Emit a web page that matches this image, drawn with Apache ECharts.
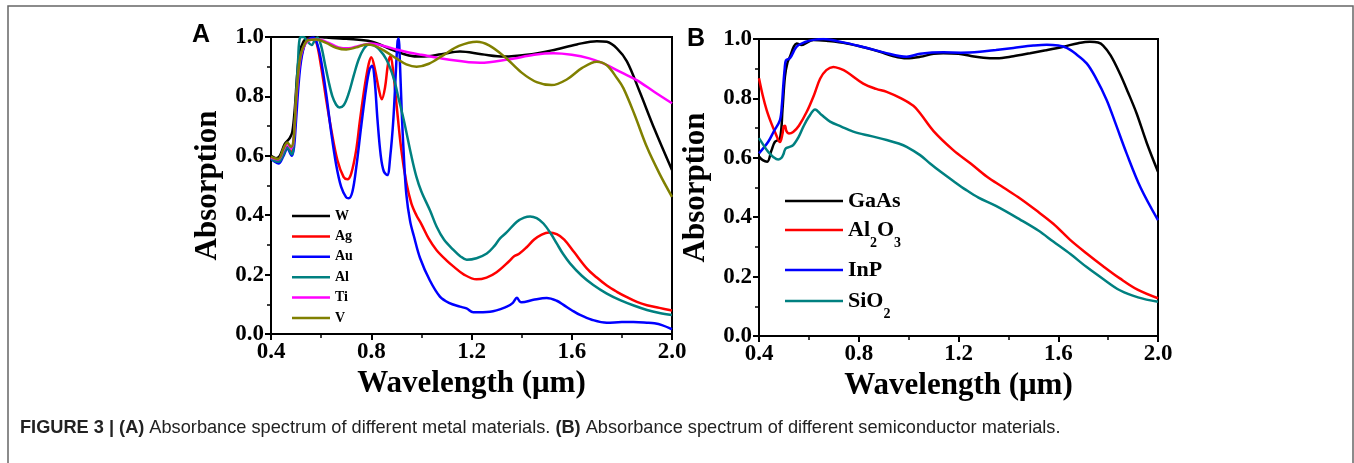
<!DOCTYPE html>
<html>
<head>
<meta charset="utf-8">
<script src="https://cdn.jsdelivr.net/npm/echarts@6/dist/echarts.min.js"></script>
<style>
  html, body { margin: 0; padding: 0; background: #fff; }
  #chart { width: 1354px; height: 463px; }
</style>
</head>
<body>
<div id="chart"></div>
<script>
// ---- Panel A: metals (wavelength in um, absorption) ----
const W = [[0.40,0.600],[0.42,0.592],[0.435,0.600],[0.455,0.640],[0.475,0.660],[0.485,0.680],[0.495,0.760],[0.505,0.880],[0.515,0.950],[0.53,0.985],[0.545,0.998],[0.57,1.0],[0.62,0.998],[0.70,0.994],[0.80,0.985],[0.88,0.958],[0.95,0.938],[1.0,0.934],[1.08,0.942],[1.154,0.951],[1.24,0.942],[1.33,0.934],[1.42,0.940],[1.52,0.955],[1.62,0.975],[1.70,0.986],[1.74,0.984],[1.78,0.962],[1.82,0.918],[1.87,0.818],[1.93,0.690],[2.0,0.552]];
const Ag = [[0.40,0.595],[0.415,0.585],[0.43,0.582],[0.45,0.610],[0.465,0.630],[0.48,0.612],[0.49,0.640],[0.50,0.760],[0.51,0.870],[0.525,0.950],[0.545,0.990],[0.565,0.995],[0.58,0.985],[0.60,0.900],[0.62,0.790],[0.64,0.690],[0.665,0.585],[0.69,0.528],[0.705,0.521],[0.72,0.540],[0.74,0.620],[0.755,0.720],[0.775,0.840],[0.79,0.910],[0.80,0.932],[0.815,0.890],[0.83,0.825],[0.842,0.790],[0.855,0.830],[0.867,0.910],[0.877,0.935],[0.888,0.880],[0.90,0.780],[0.92,0.620],[0.94,0.510],[0.96,0.440],[0.98,0.400],[1.0,0.370],[1.03,0.320],[1.06,0.283],[1.10,0.248],[1.13,0.226],[1.17,0.200],[1.22,0.184],[1.26,0.190],[1.30,0.208],[1.35,0.245],[1.37,0.262],[1.39,0.270],[1.42,0.292],[1.45,0.318],[1.48,0.335],[1.51,0.342],[1.54,0.336],[1.57,0.318],[1.61,0.275],[1.66,0.221],[1.70,0.190],[1.74,0.163],[1.78,0.142],[1.82,0.124],[1.86,0.108],[1.90,0.097],[1.95,0.088],[2.0,0.079]];
const Au = [[0.40,0.590],[0.415,0.580],[0.43,0.574],[0.45,0.600],[0.465,0.625],[0.483,0.600],[0.492,0.630],[0.50,0.720],[0.51,0.840],[0.52,0.920],[0.535,0.975],[0.55,0.992],[0.57,0.998],[0.585,0.975],[0.60,0.920],[0.62,0.810],[0.64,0.680],[0.66,0.570],[0.68,0.495],[0.70,0.460],[0.71,0.457],[0.725,0.480],[0.74,0.560],[0.76,0.700],[0.78,0.830],[0.793,0.890],[0.803,0.903],[0.813,0.860],[0.825,0.720],[0.838,0.600],[0.85,0.548],[0.864,0.535],[0.876,0.600],[0.888,0.720],[0.898,0.880],[0.905,0.985],[0.909,0.995],[0.915,0.900],[0.922,0.740],[0.93,0.600],[0.94,0.470],[0.955,0.380],[0.97,0.330],[0.995,0.255],[1.034,0.180],[1.074,0.126],[1.11,0.105],[1.154,0.092],[1.18,0.086],[1.207,0.073],[1.274,0.075],[1.341,0.092],[1.365,0.105],[1.381,0.122],[1.392,0.110],[1.40,0.107],[1.447,0.115],[1.50,0.121],[1.54,0.112],[1.567,0.098],[1.60,0.080],[1.633,0.064],[1.68,0.048],[1.74,0.038],[1.80,0.040],[1.846,0.040],[1.90,0.038],[1.93,0.036],[1.96,0.030],[2.0,0.016]];
const Al = [[0.40,0.592],[0.415,0.583],[0.43,0.580],[0.45,0.605],[0.465,0.628],[0.483,0.605],[0.492,0.660],[0.50,0.800],[0.508,0.920],[0.516,0.998],[0.53,1.0],[0.545,0.985],[0.562,0.973],[0.575,0.990],[0.585,0.998],[0.60,0.970],[0.615,0.910],[0.63,0.850],[0.645,0.800],[0.66,0.772],[0.673,0.763],[0.69,0.770],[0.71,0.810],[0.73,0.870],[0.75,0.925],[0.77,0.960],[0.79,0.975],[0.81,0.972],[0.83,0.960],[0.86,0.925],[0.89,0.860],[0.91,0.790],[0.93,0.720],[0.96,0.600],[0.98,0.530],[1.0,0.480],[1.035,0.415],[1.061,0.361],[1.09,0.318],[1.128,0.283],[1.155,0.262],[1.181,0.250],[1.22,0.255],[1.261,0.271],[1.29,0.295],[1.314,0.322],[1.34,0.342],[1.381,0.378],[1.41,0.392],[1.434,0.396],[1.46,0.390],[1.487,0.372],[1.515,0.340],[1.54,0.305],[1.565,0.270],[1.593,0.238],[1.64,0.196],[1.686,0.165],[1.74,0.136],[1.793,0.114],[1.85,0.095],[1.90,0.081],[1.95,0.071],[2.0,0.064]];
const Ti = [[0.40,0.595],[0.415,0.590],[0.43,0.588],[0.45,0.620],[0.465,0.640],[0.48,0.625],[0.49,0.650],[0.50,0.780],[0.51,0.880],[0.52,0.940],[0.535,0.975],[0.55,0.988],[0.57,0.992],[0.60,0.990],[0.63,0.980],[0.67,0.965],[0.71,0.962],[0.75,0.970],[0.80,0.978],[0.85,0.970],[0.90,0.958],[0.95,0.948],[1.0,0.940],[1.1,0.925],[1.234,0.913],[1.35,0.925],[1.45,0.940],[1.527,0.945],[1.60,0.940],[1.67,0.928],[1.726,0.911],[1.80,0.880],[1.859,0.855],[1.93,0.815],[2.0,0.777]];
const V = [[0.40,0.597],[0.415,0.592],[0.43,0.590],[0.45,0.625],[0.465,0.645],[0.48,0.630],[0.49,0.655],[0.50,0.790],[0.51,0.890],[0.52,0.945],[0.535,0.978],[0.55,0.990],[0.58,0.992],[0.62,0.980],[0.66,0.964],[0.70,0.958],[0.74,0.965],[0.78,0.975],[0.81,0.972],[0.85,0.955],[0.90,0.928],[0.94,0.908],[0.981,0.900],[1.03,0.910],[1.09,0.940],[1.15,0.970],[1.221,0.984],[1.27,0.972],[1.33,0.935],[1.40,0.880],[1.46,0.848],[1.52,0.838],[1.58,0.857],[1.64,0.895],[1.70,0.917],[1.74,0.905],[1.78,0.862],[1.806,0.828],[1.85,0.740],[1.899,0.631],[1.95,0.540],[2.0,0.462]];

// ---- Panel B: semiconductors ----
const GaAs = [[0.40,0.604],[0.415,0.592],[0.433,0.587],[0.45,0.625],[0.464,0.654],[0.484,0.665],[0.494,0.760],[0.504,0.873],[0.514,0.920],[0.524,0.940],[0.54,0.975],[0.551,0.985],[0.57,0.980],[0.618,0.997],[0.68,0.993],[0.752,0.985],[0.82,0.972],[0.885,0.957],[0.94,0.942],[0.992,0.935],[1.046,0.940],[1.10,0.950],[1.139,0.952],[1.20,0.950],[1.25,0.943],[1.30,0.937],[1.353,0.935],[1.42,0.942],[1.487,0.952],[1.55,0.962],[1.62,0.974],[1.68,0.986],[1.727,0.991],[1.76,0.988],[1.78,0.978],[1.81,0.945],[1.847,0.884],[1.88,0.820],[1.914,0.750],[1.955,0.650],[2.0,0.553]];
const Al2O3 = [[0.40,0.868],[0.415,0.810],[0.431,0.760],[0.45,0.715],[0.464,0.687],[0.484,0.653],[0.494,0.680],[0.499,0.705],[0.504,0.708],[0.51,0.690],[0.52,0.682],[0.537,0.687],[0.56,0.708],[0.591,0.754],[0.62,0.810],[0.645,0.866],[0.67,0.895],[0.698,0.906],[0.725,0.900],[0.752,0.889],[0.818,0.850],[0.87,0.832],[0.912,0.822],[0.97,0.800],[1.019,0.775],[1.046,0.750],[1.10,0.690],[1.179,0.626],[1.25,0.580],[1.313,0.537],[1.38,0.500],[1.447,0.463],[1.51,0.424],[1.58,0.378],[1.65,0.322],[1.714,0.278],[1.78,0.235],[1.847,0.194],[1.92,0.155],[2.0,0.127]];
const InP = [[0.40,0.615],[0.437,0.654],[0.46,0.690],[0.484,0.727],[0.492,0.780],[0.497,0.839],[0.503,0.900],[0.508,0.928],[0.524,0.935],[0.551,0.974],[0.585,0.990],[0.618,0.997],[0.658,1.0],[0.72,0.992],[0.818,0.973],[0.9,0.955],[0.992,0.940],[1.046,0.950],[1.139,0.955],[1.21,0.954],[1.286,0.957],[1.35,0.963],[1.42,0.970],[1.50,0.978],[1.554,0.981],[1.60,0.978],[1.634,0.970],[1.67,0.950],[1.714,0.918],[1.75,0.870],[1.794,0.795],[1.83,0.715],[1.874,0.615],[1.93,0.500],[2.0,0.390]];
const SiO2 = [[0.40,0.666],[0.42,0.640],[0.437,0.620],[0.457,0.603],[0.477,0.594],[0.49,0.600],[0.497,0.610],[0.503,0.625],[0.508,0.632],[0.52,0.636],[0.537,0.643],[0.56,0.672],[0.578,0.705],[0.60,0.738],[0.625,0.763],[0.65,0.745],[0.685,0.722],[0.73,0.705],[0.778,0.688],[0.85,0.673],[0.912,0.660],[0.96,0.648],[0.992,0.637],[1.046,0.609],[1.086,0.581],[1.13,0.552],[1.179,0.522],[1.23,0.492],[1.28,0.466],[1.35,0.438],[1.447,0.392],[1.52,0.355],[1.58,0.318],[1.65,0.275],[1.714,0.232],[1.78,0.192],[1.847,0.154],[1.92,0.130],[2.0,0.115]];

const metalNames = ['W', 'Ag', 'Au', 'Al', 'Ti', 'V'];
const metalData = [W, Ag, Au, Al, Ti, V];
const metalColors = ['#000000', '#ff0000', '#0000ff', '#008080', '#ff00ff', '#808000'];

const semiNames = ['GaAs', 'Al2O3', 'InP', 'SiO2'];
const semiData = [GaAs, Al2O3, InP, SiO2];
const semiColors = ['#000000', '#ff0000', '#0000ff', '#008080'];

const SERIF = 'Liberation Serif, Times New Roman, serif';
const SANS = 'Liberation Sans, Arial, sans-serif';

function xAxisFor(gridIndex) {
  return {
    type: 'value', gridIndex: gridIndex, min: 0.4, max: 2.0, interval: 0.4,
    name: 'Wavelength (\u03bcm)', nameLocation: 'middle', nameGap: 27,
    nameTextStyle: { fontFamily: SERIF, fontWeight: 'bold', fontSize: 31, color: '#000' },
    axisLine: { show: true, onZero: false, lineStyle: { color: '#000', width: 2 } },
    axisTick: { show: true, inside: false, length: 6, lineStyle: { color: '#000', width: 2 } },
    minorTick: { show: true, splitNumber: 2, length: 4, lineStyle: { color: '#000', width: 1.5 } },
    axisLabel: { margin: 7, fontFamily: SERIF, fontWeight: 'bold', fontSize: 23, color: '#000',
                 formatter: v => v.toFixed(1) },
    splitLine: { show: false }
  };
}
function yAxisFor(gridIndex) {
  return {
    type: 'value', gridIndex: gridIndex, min: 0, max: 1, interval: 0.2,
    name: 'Absorption', nameLocation: 'middle', nameGap: 48,
    nameTextStyle: { fontFamily: SERIF, fontWeight: 'bold', fontSize: 31, color: '#000' },
    axisLine: { show: true, onZero: false, lineStyle: { color: '#000', width: 2 } },
    axisTick: { show: true, inside: false, length: 6, lineStyle: { color: '#000', width: 2 } },
    minorTick: { show: true, splitNumber: 2, length: 4, lineStyle: { color: '#000', width: 1.5 } },
    axisLabel: { margin: 7, fontFamily: SERIF, fontWeight: 'bold', fontSize: 23, color: '#000',
                 formatter: v => v.toFixed(1) },
    splitLine: { show: false }
  };
}

function lineSeries(name, data, color, idx) {
  return {
    name: name, type: 'line', data: data,
    xAxisIndex: idx, yAxisIndex: idx,
    smooth: 0.35, symbol: 'none', showSymbol: false, clip: true,
    lineStyle: { color: color, width: 2.5 },
    itemStyle: { color: color }
  };
}

const series = [];
metalNames.forEach((n, i) => series.push(lineSeries(n, metalData[i], metalColors[i], 0)));
semiNames.forEach((n, i) => series.push(lineSeries(n, semiData[i], semiColors[i], 1)));

// Legend for metals: one vertical block with plain line keys
const legends = [{
  orient: 'vertical', left: 287, top: 204,
  icon: 'rect', itemWidth: 38, itemHeight: 2.5, itemGap: 6.4,
  data: metalNames,
  textStyle: { fontFamily: SERIF, fontWeight: 'bold', fontSize: 14, color: '#000' }
}];

// Legend for semiconductors: one entry per block, with chemical subscripts
const semiLegendTops = [185, 214, 254, 285];
const subText = { GaAs: '{n|GaAs}', Al2O3: '{n|Al}{s|2}{n|O}{s|3}', InP: '{n|InP}', SiO2: '{n|SiO}{s|2}' };
semiNames.forEach((n, i) => {
  legends.push({
    orient: 'vertical', left: 780, top: semiLegendTops[i],
    icon: 'rect', itemWidth: 58, itemHeight: 2.5,
    data: [n],
    formatter: name => subText[name],
    textStyle: {
      fontFamily: SERIF, fontWeight: 'bold', fontSize: 22, color: '#000',
      rich: {
        n: { fontFamily: SERIF, fontWeight: 'bold', fontSize: 22, color: '#000',
             lineHeight: (n === 'Al2O3' || n === 'SiO2') ? 40 : 26, verticalAlign: 'middle' },
        s: { fontFamily: SERIF, fontWeight: 'bold', fontSize: 14, color: '#000',
             lineHeight: 14, verticalAlign: 'bottom' }
      }
    }
  });
});

const option = {
  animation: false,
  backgroundColor: '#ffffff',
  grid: [
    { left: 271, top: 37, width: 401, height: 297, show: true, borderColor: '#000', borderWidth: 2, backgroundColor: 'transparent' },
    { left: 759, top: 39, width: 399, height: 297, show: true, borderColor: '#000', borderWidth: 2, backgroundColor: 'transparent' }
  ],
  xAxis: [xAxisFor(0), xAxisFor(1)],
  yAxis: [yAxisFor(0), yAxisFor(1)],
  legend: legends,
  series: series,
  graphic: [
    { type: 'rect', shape: { x: 8, y: 6, width: 1345, height: 480 }, silent: true,
      style: { fill: 'none', stroke: '#666', lineWidth: 1.5 } },
    { type: 'text', x: 201, y: 35, silent: true,
      style: { text: 'A', fontFamily: SANS, fontWeight: 'bold', fontSize: 25, fill: '#000', align: 'center', verticalAlign: 'middle' } },
    { type: 'text', x: 696, y: 39, silent: true,
      style: { text: 'B', fontFamily: SANS, fontWeight: 'bold', fontSize: 25, fill: '#000', align: 'center', verticalAlign: 'middle' } },
    { type: 'text', x: 20, y: 428, silent: true,
      style: {
        text: '{b|FIGURE 3 | (A)} Absorbance spectrum of different metal materials. {b|(B)} Absorbance spectrum of different semiconductor materials.',
        fontFamily: SANS, fontSize: 18.2, fill: '#222', align: 'left', verticalAlign: 'middle',
        rich: { b: { fontFamily: SANS, fontWeight: 'bold', fontSize: 18.2, fill: '#222' } }
      } }
  ]
};

const chart = echarts.init(document.getElementById('chart'), null, { renderer: 'canvas' });
chart.setOption(option);
</script>
</body>
</html>
